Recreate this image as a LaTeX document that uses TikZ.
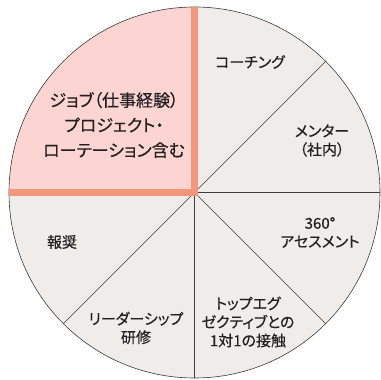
\documentclass[tikz,border=0pt]{standalone}
\usetikzlibrary{calc}
\usepackage{fontspec}
\newfontfamily\jp[RawFeature=+palt,FakeBold=0.4]{Noto Sans CJK JP}
\definecolor{pinkfill}{HTML}{FCD5D2}
\definecolor{greyfill}{HTML}{EFECE9}
\definecolor{orangeline}{HTML}{F4967A}
\definecolor{darkline}{HTML}{3C3C3C}
\definecolor{textcol}{HTML}{231F20}
\tikzset{
  lbl/.style={align=center, text=textcol, inner sep=0pt, font=\jp\fontsize{15}{18.5}\selectfont},
  biglbl/.style={align=center, text=textcol, inner sep=0pt, font=\jp\fontsize{17}{25}\selectfont},
  sep/.style={draw=darkline, line width=0.6pt},
  accent/.style={draw=orangeline, line width=7.5pt, line join=miter, line cap=butt}
}
\begin{document}
\begin{tikzpicture}[x=1pt,y=1pt]
\useasboundingbox (0,0) rectangle (381,380);
\def\R{185.5}
\coordinate (c) at (194.5,187.5);
% fills
\fill[greyfill] (c) circle (\R);
\fill[pinkfill] (c) -- ++(90:\R) arc (90:180:\R) -- cycle;
% separators
\foreach \a in {45,0,-45,-90,-135}{
  \draw[sep] (c) -- ++(\a:\R);
}
% outline
\draw[sep] (c) circle (\R);
% accent lines
\coordinate (top) at ($(c)+(90:\R)$);
\coordinate (left) at ($(c)+(180:\R)$);
\draw[accent] (top) -- (c) -- (left);
% labels
\node[biglbl] (job) at (114,255) {ジョブ（仕事経験）\\プロジェクト・\\ローテーション含む};
\node[lbl] (coach) at (250,318) {コーチング};
\node[lbl] (mentor) at (322,239.5) {メンター\\（社内）};
\node[lbl] (assess) at (320,147.5) {360°\\アセスメント};
\node[lbl] (exec) at (248,58) {トップエグ\\ゼクティブとの\\1対1の接触};
\node[lbl] (reward) at (62,138) {報奨};
\node[lbl] (lead) at (136,52) {リーダーシップ\\研修};
\end{tikzpicture}
\end{document}
